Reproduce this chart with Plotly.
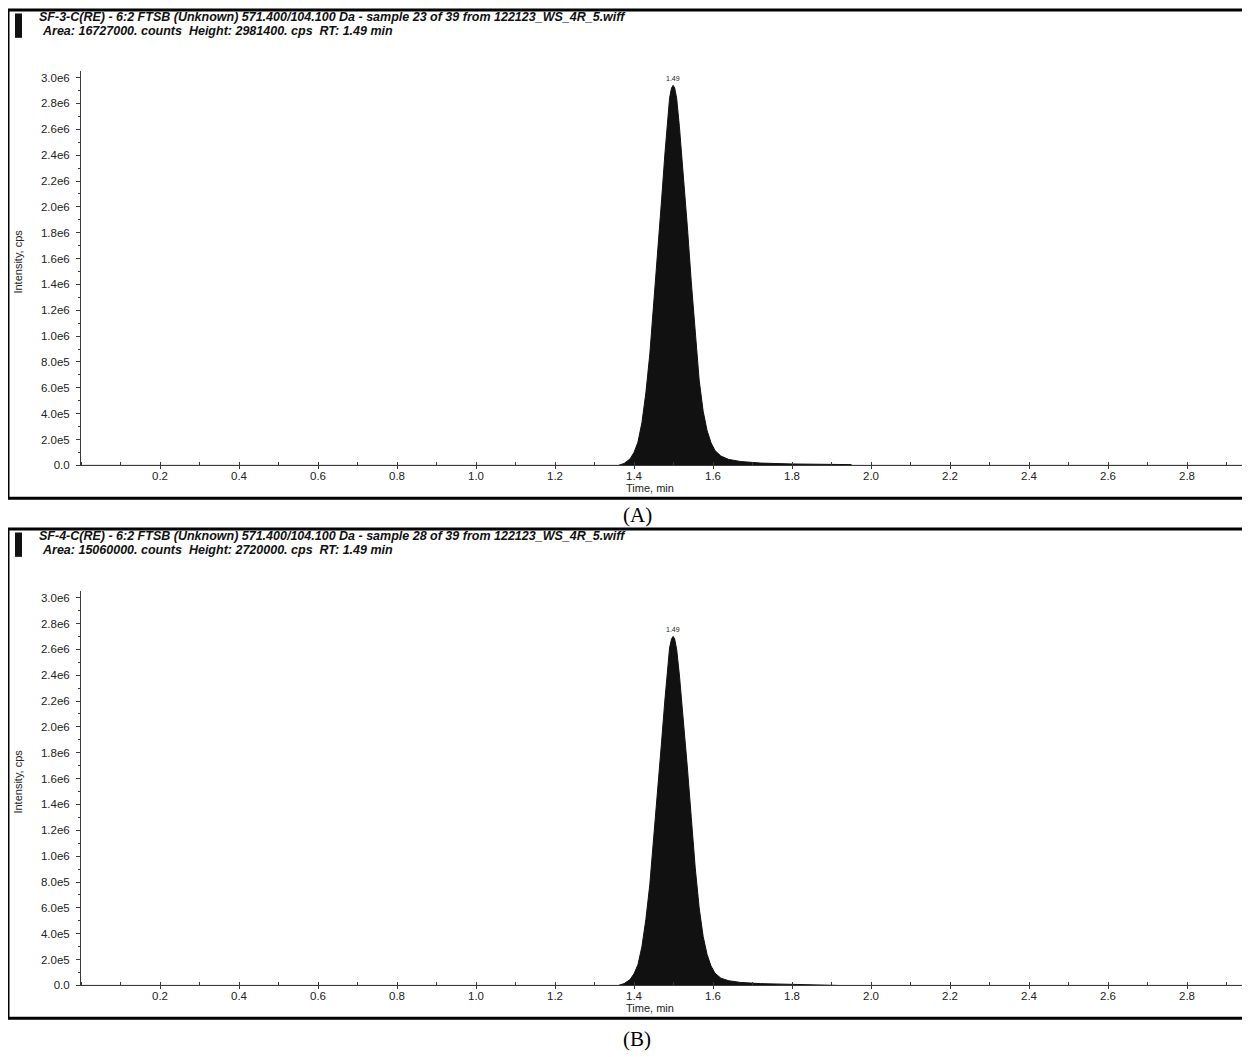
import plotly.graph_objects as go

W, H = 1250, 1057
OFF = 8  # page body margin offset in the browser

# ---------------- data ----------------
time_a = [0.0, 1.36, 1.375, 1.39, 1.40, 1.41, 1.42, 1.43, 1.44, 1.45, 1.46, 1.47, 1.478, 1.485, 1.49,
          1.495, 1.499, 1.503, 1.508, 1.515, 1.525, 1.535, 1.545, 1.555, 1.565, 1.575, 1.585, 1.595,
          1.605, 1.62, 1.64, 1.67, 1.72, 1.80, 1.88, 1.95, 1.951, 2.98]
intensity_a = [0.0, 0.0, 0.015e6, 0.05e6, 0.10e6, 0.18e6, 0.33e6, 0.56e6, 0.86e6, 1.24e6, 1.64e6, 2.06e6,
               2.40e6, 2.68e6, 2.84e6, 2.92e6, 2.94e6, 2.92e6, 2.84e6, 2.62e6, 2.25e6, 1.85e6, 1.42e6,
               1.00e6, 0.66e6, 0.42e6, 0.27e6, 0.175e6, 0.115e6, 0.072e6, 0.046e6, 0.03e6, 0.018e6,
               0.011e6, 0.008e6, 0.006e6, 0.0, 0.0]

time_b = [0.0, 1.36, 1.375, 1.39, 1.40, 1.41, 1.42, 1.43, 1.44, 1.45, 1.46, 1.47, 1.478, 1.485, 1.49,
          1.495, 1.499, 1.503, 1.508, 1.515, 1.525, 1.535, 1.545, 1.555, 1.565, 1.575, 1.585, 1.595,
          1.605, 1.62, 1.64, 1.67, 1.72, 1.80, 1.86, 1.92, 1.921, 2.98]
intensity_b = [0.0, 0.0, 0.014e6, 0.045e6, 0.09e6, 0.16e6, 0.30e6, 0.51e6, 0.78e6, 1.13e6, 1.50e6, 1.89e6,
               2.20e6, 2.46e6, 2.61e6, 2.68e6, 2.70e6, 2.68e6, 2.60e6, 2.40e6, 2.06e6, 1.69e6, 1.30e6,
               0.91e6, 0.60e6, 0.38e6, 0.24e6, 0.15e6, 0.095e6, 0.056e6, 0.036e6, 0.023e6, 0.014e6,
               0.009e6, 0.007e6, 0.005e6, 0.0, 0.0]

apex_a = (1.499, 2.94e6)
apex_b = (1.499, 2.70e6)
apex_label = "1.49"

x_tick_vals = [0.2, 0.4, 0.6, 0.8, 1.0, 1.2, 1.4, 1.6, 1.8, 2.0, 2.2, 2.4, 2.6, 2.8]
x_tick_text = ["0.2", "0.4", "0.6", "0.8", "1.0", "1.2", "1.4", "1.6", "1.8", "2.0", "2.2", "2.4", "2.6", "2.8"]
y_tick_vals = [0, 2e5, 4e5, 6e5, 8e5, 1.0e6, 1.2e6, 1.4e6, 1.6e6, 1.8e6, 2.0e6, 2.2e6, 2.4e6, 2.6e6, 2.8e6, 3.0e6]
y_tick_text = ["0.0", "2.0e5", "4.0e5", "6.0e5", "8.0e5", "1.0e6", "1.2e6", "1.4e6", "1.6e6", "1.8e6",
               "2.0e6", "2.2e6", "2.4e6", "2.6e6", "2.8e6", "3.0e6"]

header_a1 = "SF-3-C(RE) - 6:2 FTSB (Unknown) 571.400/104.100 Da - sample 23 of 39 from 122123_WS_4R_5.wiff"
header_a2 = "Area: 16727000. counts  Height: 2981400. cps  RT: 1.49 min"
header_b1 = "SF-4-C(RE) - 6:2 FTSB (Unknown) 571.400/104.100 Da - sample 28 of 39 from 122123_WS_4R_5.wiff"
header_b2 = "Area: 15060000. counts  Height: 2720000. cps  RT: 1.49 min"

# ---------------- helpers (page pixels -> paper) ----------------
def px(x):
    return (x - OFF) / W

def py(y):
    return 1 - (y - OFF) / H

SANS = "Liberation Sans, Arial, sans-serif"
SERIF = "Liberation Serif, Times New Roman, serif"
AX_COL = "#3a3a3a"
TXT_COL = "#222222"

fig = go.Figure()

fig.add_trace(go.Scatter(x=time_a, y=intensity_a, mode="lines", fill="tozeroy",
                         line=dict(color="#111111", width=1), fillcolor="#111111",
                         xaxis="x", yaxis="y", showlegend=False, hoverinfo="skip"))
fig.add_trace(go.Scatter(x=time_b, y=intensity_b, mode="lines", fill="tozeroy",
                         line=dict(color="#111111", width=1), fillcolor="#111111",
                         xaxis="x2", yaxis="y2", showlegend=False, hoverinfo="skip"))

x_left_px = 81
y_px_per_unit = 130.0 / 1e6
x_px_per_unit = 395.0
x_max = (W + OFF - x_left_px) / x_px_per_unit

def panel_axes(axis0_px):
    top_px = axis0_px - 397
    ymax = (axis0_px - top_px) / y_px_per_unit
    xa = dict(domain=[px(x_left_px), 1.0], range=[0, x_max], showline=True, linecolor=AX_COL,
              linewidth=1, showgrid=False, zeroline=False, ticks="outside", ticklen=3,
              tickcolor=AX_COL, tickvals=x_tick_vals, ticktext=x_tick_text,
              tickfont=dict(family=SANS, size=11.5, color=TXT_COL), ticklabelstandoff=-3,
              minor=dict(dtick=0.1, tick0=0, ticks="inside", ticklen=3, tickcolor=AX_COL, showgrid=False),
              fixedrange=True)
    ya = dict(domain=[py(axis0_px), py(top_px)], range=[0, ymax], showline=True, linecolor=AX_COL,
              linewidth=1, showgrid=False, zeroline=False, ticks="outside", ticklen=4,
              tickcolor=AX_COL, tickvals=y_tick_vals, ticktext=y_tick_text,
              tickfont=dict(family=SANS, size=11.5, color=TXT_COL), ticklabelstandoff=4,
              minor=dict(dtick=1e5, tick0=0, ticks="outside", ticklen=2, tickcolor=AX_COL, showgrid=False),
              fixedrange=True)
    return xa, ya

AXIS_A = 468
AXIS_B = 991
xa1, ya1 = panel_axes(AXIS_A)
xa2, ya2 = panel_axes(AXIS_B)
xa1["anchor"] = "y"
ya1["anchor"] = "x"
xa2["anchor"] = "y2"
ya2["anchor"] = "x2"

shapes = []
annotations = []

panels = [
    dict(axis=AXIS_A, h1=header_a1, h2=header_a2, apex=apex_a, ax=("x", "y")),
    dict(axis=AXIS_B, h1=header_b1, h2=header_b2, apex=apex_b, ax=("x2", "y2")),
]

for p in panels:
    a = p["axis"]
    t = max(a - 459, OFF + 2.0)   # frame top
    shapes.append(dict(type="rect", xref="paper", yref="paper",
                       x0=px(8), x1=px(1262), y0=py(t), y1=py(a + 33),
                       line=dict(color="black", width=3), fillcolor="rgba(0,0,0,0)"))
    shapes.append(dict(type="rect", xref="paper", yref="paper",
                       x0=px(15), x1=px(22), y0=py(t + 3.5), y1=py(t + 28),
                       line=dict(width=0), fillcolor="#111111"))
    annotations.append(dict(text="<b><i>%s</i></b>" % p["h1"], xref="paper", yref="paper",
                            x=px(37), y=py(t + 7.5), xanchor="left", yanchor="middle",
                            showarrow=False, font=dict(family=SANS, size=12.5, color="#111111")))
    annotations.append(dict(text="<b><i>%s</i></b>" % p["h2"], xref="paper", yref="paper",
                            x=px(40), y=py(t + 21.5), xanchor="left", yanchor="middle",
                            showarrow=False, font=dict(family=SANS, size=12.5, color="#111111")))
    annotations.append(dict(text="Intensity, cps", xref="paper", yref="paper", textangle=-90,
                            x=px(18), y=py(a - 205), xanchor="center", yanchor="middle",
                            showarrow=False, font=dict(family=SANS, size=11, color=TXT_COL)))
    annotations.append(dict(text="Time, min", xref="paper", yref="paper",
                            x=px(650), y=py(a + 23), xanchor="center", yanchor="middle",
                            showarrow=False, font=dict(family=SANS, size=11, color=TXT_COL)))
    annotations.append(dict(text=apex_label, xref=p["ax"][0], yref=p["ax"][1],
                            x=p["apex"][0], y=p["apex"][1],
                            xanchor="center", yanchor="bottom", yshift=1, showarrow=False,
                            font=dict(family=SANS, size=7, color=TXT_COL)))

annotations.append(dict(text="(A)", xref="paper", yref="paper", x=px(637), y=py(AXIS_A + 50),
                        xanchor="center", yanchor="middle", showarrow=False,
                        font=dict(family=SERIF, size=21, color="black")))
annotations.append(dict(text="(B)", xref="paper", yref="paper", x=px(637), y=py(AXIS_B + 54),
                        xanchor="center", yanchor="middle", showarrow=False,
                        font=dict(family=SERIF, size=21, color="black")))

fig.update_layout(width=W, height=H, margin=dict(l=0, r=0, t=0, b=0),
                  paper_bgcolor="white", plot_bgcolor="white",
                  xaxis=xa1, yaxis=ya1, xaxis2=xa2, yaxis2=ya2,
                  shapes=shapes, annotations=annotations, showlegend=False)

fig.write_html("out.html", config={"displayModeBar": False})
